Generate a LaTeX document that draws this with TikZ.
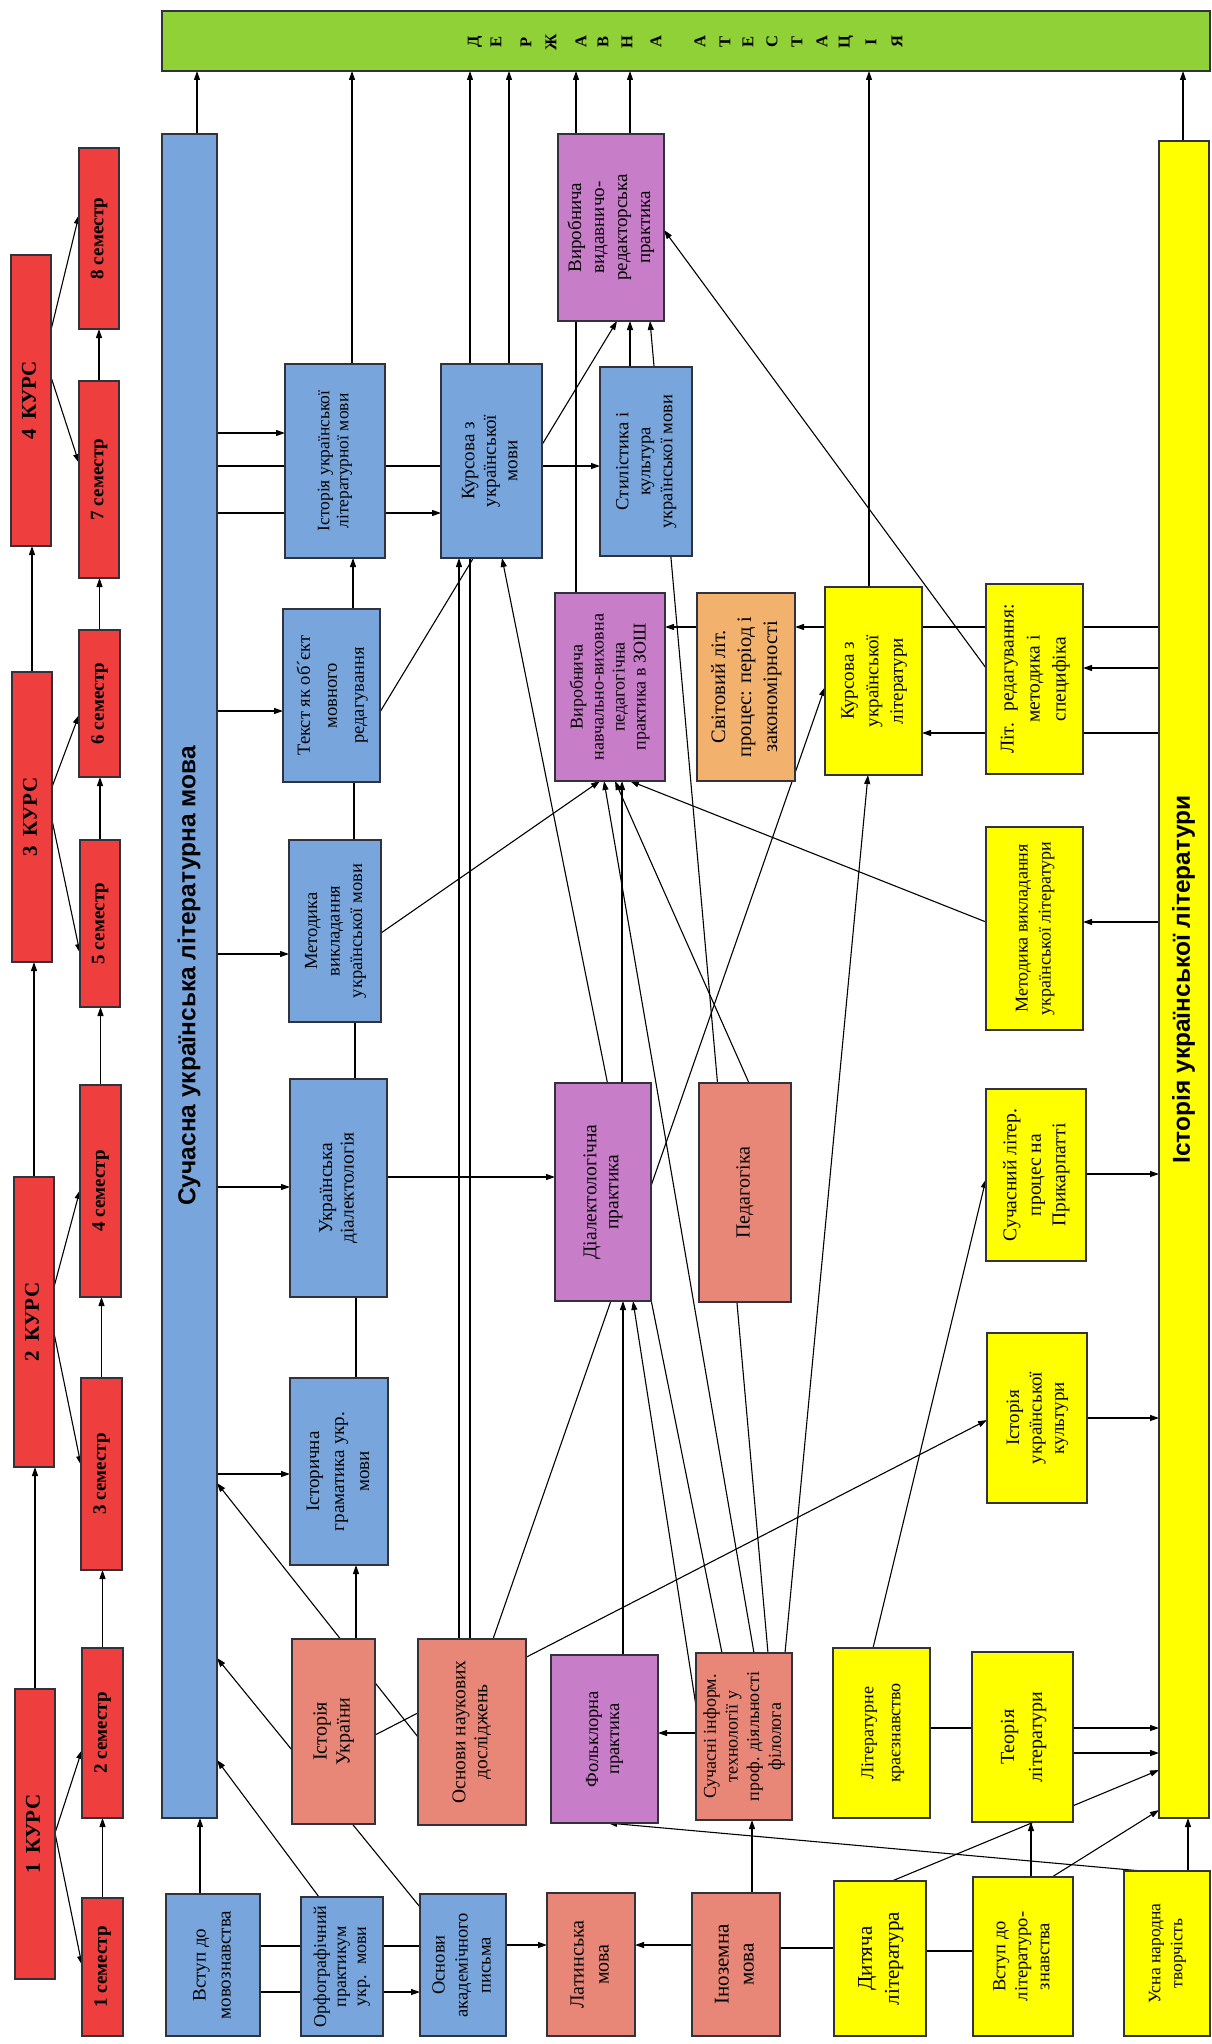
\documentclass[tikz,border=0pt]{standalone}
\usepackage{fontspec}
\setmainfont{Liberation Serif}
\newfontfamily\titlefont{Liberation Sans}
\usepackage{graphicx}
\usetikzlibrary{arrows.meta}
\definecolor{cred}{RGB}{238,62,62}
\definecolor{cblue}{RGB}{120,166,220}
\definecolor{cpurp}{RGB}{200,125,200}
\definecolor{csalm}{RGB}{232,135,120}
\definecolor{corange}{RGB}{242,178,110}
\definecolor{cyell}{RGB}{255,255,0}
\definecolor{cgreen}{RGB}{143,209,54}
\definecolor{cbord}{RGB}{50,50,60}
\newcommand\rt[1]{\rotatebox{90}{\begin{tabular}{@{}c@{}}#1\end{tabular}}}
\newcommand\fs[2]{\fontsize{#1}{#2}\selectfont}
\pgfdeclarelayer{back}
\pgfdeclarelayer{bg}
\pgfsetlayers{back,bg,main}
\tikzset{
  box/.style={draw=cbord, line width=1.3pt, inner sep=0pt, outer sep=0pt, font=\fs{19}{22}},
  redb/.style={box, fill=cred, font=\fs{19}{22}\bfseries},
  blb/.style={box, fill=cblue},
  pub/.style={box, fill=cpurp},
  sab/.style={box, fill=csalm},
  orb/.style={box, fill=corange},
  yeb/.style={box, fill=cyell},
  letter/.style={inner sep=0pt, font=\fs{16.5}{18}\bfseries},
  arr/.style={-{Triangle[length=9pt,width=6pt]}, line width=1.1pt},
  ln/.style={line width=1.1pt}
}
\begin{document}
\begin{tikzpicture}[x=1pt,y=-1pt]
\useasboundingbox (0,0) rectangle (1211,2044);
\begin{pgfonlayer}{back}
\fill[white] (0,0) rectangle (1211,2044);
\end{pgfonlayer}
% courses
\node[redb, font=\fs{21}{24}\bfseries, minimum width=40pt, minimum height=291pt] (k4) at (31,400.5) {\rt{4\hspace{0.45em}КУРС}};
\node[redb, font=\fs{21}{24}\bfseries, minimum width=40pt, minimum height=290pt] (k3) at (32,817) {\rt{3\hspace{0.45em}КУРС}};
\node[redb, font=\fs{21}{24}\bfseries, minimum width=40pt, minimum height=290pt] (k2) at (34,1322) {\rt{2\hspace{0.45em}КУРС}};
\node[redb, font=\fs{21}{24}\bfseries, minimum width=40pt, minimum height=290pt] (k1) at (35,1834) {\rt{1\hspace{0.45em}КУРС}};
% semesters
\node[redb, minimum width=40pt, minimum height=181pt] (s8) at (99,238.5) {\rt{8 семестр}};
\node[redb, minimum width=40pt, minimum height=197pt] (s7) at (99,479.5) {\rt{7 семестр}};
\node[redb, minimum width=41pt, minimum height=147pt] (s6) at (99.5,703.5) {\rt{6 семестр}};
\node[redb, minimum width=40pt, minimum height=167pt] (s5) at (100,923.5) {\rt{5 семестр}};
\node[redb, minimum width=41pt, minimum height=212pt] (s4) at (100.5,1191) {\rt{4 семестр}};
\node[redb, minimum width=41pt, minimum height=192pt] (s3) at (101.5,1474) {\rt{3 семестр}};
\node[redb, minimum width=41pt, minimum height=170pt] (s2) at (102.5,1733) {\rt{2 семестр}};
\node[redb, minimum width=41pt, minimum height=138pt] (s1) at (102.5,1967) {\rt{1 семестр}};
% big columns
\node[blb, font=\fs{24.5}{29}\titlefont\bfseries, minimum width=55pt, minimum height=1684pt] (sula) at (189.5,976) {\rt{Сучасна українська літературна мова}};
\node[box, fill=cgreen, minimum width=1048pt, minimum height=60pt] (da) at (686,41) {};
\node[yeb, font=\fs{24.5}{29}\titlefont\bfseries, minimum width=50pt, minimum height=1677pt] (istl) at (1184,979.5) {\rt{Історія української літератури}};
\foreach \l/\x [count=\i] in {Д/475,Е/496,Р/526,Ж/551,А/581,В/603,Н/627,А/656} {\node[letter] (dA\i) at (\x,42) {\rotatebox{90}{\l}};}
\foreach \l/\x [count=\i] in {А/700,Т/725,Е/748,С/772,Т/797,А/822,Ц/846,І/871,Я/897} {\node[letter] (dB\i) at (\x,42) {\rotatebox{90}{\l}};}
% blue boxes
\node[blb, font=\fs{17.5}{19}, minimum width=100pt, minimum height=194pt] (ilm) at (335,461) {\rt{Історія української\\літературної мови}};
\node[blb, font=\fs{18.5}{27}, minimum width=97pt, minimum height=173pt] (tekst) at (331.5,695.5) {\rt{Текст як об´єкт\\мовного\\редагування}};
\node[blb, font=\fs{18.5}{22.5}, minimum width=92pt, minimum height=182pt] (metm) at (335,931) {\rt{Методика\\викладання\\української мови}};
\node[blb, font=\fs{19.5}{21.5}, minimum width=97pt, minimum height=218pt] (dial) at (338.5,1188) {\rt{Українська\\діалектологія}};
\node[blb, font=\fs{19}{25}, minimum width=98pt, minimum height=187pt] (istgr) at (339,1471.5) {\rt{Історична\\граматика укр.\\мови}};
\node[blb, font=\fs{19}{21.5}, minimum width=101pt, minimum height=194pt] (kurm) at (491.5,461) {\rt{Курсова з\\української\\мови}};
\node[blb, font=\fs{18.5}{22}, minimum width=92pt, minimum height=189pt] (stil) at (646,461.5) {\rt{Стилістика і\\культура\\української мови}};
\node[blb, font=\fs{19}{25}, minimum width=94pt, minimum height=142pt] (vstm) at (213,1965) {\rt{Вступ до\\мовознавства}};
\node[blb, font=\fs{18}{20}, minimum width=82pt, minimum height=139pt] (orf) at (342,1966.5) {\rt{Орфографічний\\практикум\\укр.~ мови}};
\node[blb, font=\fs{18.5}{23}, minimum width=86pt, minimum height=142pt] (oap) at (463,1965) {\rt{Основи\\академічного\\письма}};
% purple
\node[pub, font=\fs{19}{23}, minimum width=106pt, minimum height=187pt] (vyd) at (611,227.5) {\rt{Виробнича\\видавничо-\\редакторська\\практика}};
\node[pub, font=\fs{18}{21}, minimum width=110pt, minimum height=188pt] (vnz) at (610,687) {\rt{Виробнича\\навчально-виховна\\педагогічна\\практика в ЗОШ}};
\node[pub, font=\fs{19.5}{22}, minimum width=96pt, minimum height=218pt] (dpr) at (603,1192) {\rt{Діалектологічна\\практика}};
\node[pub, font=\fs{18.5}{21}, minimum width=107pt, minimum height=168pt] (folk) at (604.5,1739) {\rt{Фольклорна\\практика}};
% salmon
\node[sab, font=\fs{20}{23}, minimum width=92pt, minimum height=219pt] (ped) at (745,1192.5) {\rt{Педагогіка}};
\node[sab, font=\fs{20}{23}, minimum width=83pt, minimum height=185pt] (istu) at (333.5,1731.5) {\rt{Історія\\України}};
\node[sab, font=\fs{19.5}{22}, minimum width=108pt, minimum height=186pt] (osn) at (472,1732) {\rt{Основи наукових\\досліджень}};
\node[sab, font=\fs{18}{21.7}, minimum width=96pt, minimum height=167pt] (sit) at (744,1736.5) {\rt{Сучасні інформ.\\технології у\\проф. діяльності\\філолога}};
\node[sab, font=\fs{20}{25}, minimum width=88pt, minimum height=143pt] (lat) at (591,1964.5) {\rt{Латинська\\мова}};
\node[sab, font=\fs{21}{25}, minimum width=88pt, minimum height=143pt] (inoz) at (736,1964.5) {\rt{Іноземна\\мова}};
% orange
\node[orb, font=\fs{20.5}{26}, minimum width=98pt, minimum height=188pt] (svit) at (746,687) {\rt{Світовий літ.\\процес: період і\\закономірності}};
% yellow
\node[yeb, font=\fs{19}{24.5}, minimum width=97pt, minimum height=188pt] (kurl) at (873.5,681) {\rt{Курсова з\\української\\літератури}};
\node[yeb, font=\fs{19.5}{26}, minimum width=97pt, minimum height=190pt] (litred) at (1034.5,679) {\rt{Літ.~ редагування:\\методика і\\специфіка}};
\node[yeb, font=\fs{18}{23}, minimum width=97pt, minimum height=203pt] (metl) at (1034.5,928.5) {\rt{Методика викладання\\української літератури}};
\node[yeb, font=\fs{19.5}{24.5}, minimum width=100pt, minimum height=172pt] (suchl) at (1036,1175) {\rt{Сучасний літер.\\процес на\\Прикарпатті}};
\node[yeb, font=\fs{19}{22.5}, minimum width=100pt, minimum height=170pt] (kult) at (1037,1418) {\rt{Історія\\української\\культури}};
\node[yeb, font=\fs{18}{27}, minimum width=97pt, minimum height=170pt] (kraj) at (881.5,1733) {\rt{Літературне\\краєзнавство}};
\node[yeb, font=\fs{20}{28}, minimum width=101pt, minimum height=170pt] (teor) at (1022.5,1737) {\rt{Теорія\\літератури}};
\node[yeb, font=\fs{21}{27}, minimum width=92pt, minimum height=155pt] (dyt) at (880,1958.5) {\rt{Дитяча\\література}};
\node[yeb, font=\fs{18.5}{22}, minimum width=100pt, minimum height=159pt] (vstl) at (1023,1956.5) {\rt{Вступ до\\літературо-\\знавства}};
\node[yeb, font=\fs{17.5}{22}, minimum width=86pt, minimum height=165pt] (usna) at (1167,1953.5) {\rt{Усна народна\\творчість}};
\begin{pgfonlayer}{bg}
% courses and semesters
\draw[arr] (k1.north) -- (k1.north |- k2.south);
\draw[arr] (k2.north) -- (k2.north |- k3.south);
\draw[arr] (k3.north) -- (k3.north |- k4.south);
\draw[arr] (s1.north) -- (s1.north |- s2.south);
\draw[arr] (s2.north) -- (s2.north |- s3.south);
\draw[arr] (s3.north) -- (s3.north |- s4.south);
\draw[arr] (s4.north) -- (s4.north |- s5.south);
\draw[arr] (s5.north) -- (s5.north |- s6.south);
\draw[arr] (s6.north) -- (s6.north |- s7.south);
\draw[arr] (s7.north) -- (s7.north |- s8.south);
\draw[arr] (k4.east |- 0,330) -- (s8.west |- 0,215);
\draw[arr] (k4.east |- 0,377) -- (s7.west |- 0,463);
\draw[arr] (k3.east |- 0,787) -- (s6.west |- 0,715);
\draw[arr] (k3.east |- 0,820) -- (s5.west |- 0,953);
\draw[arr] (k2.east |- 0,1287) -- (s4.west |- 0,1190);
\draw[arr] (k2.east |- 0,1333) -- (s3.west |- 0,1465);
\draw[arr] (k1.east |- 0,1833) -- (s2.west |- 0,1750);
\draw[arr] (k1.east |- 0,1833) -- (s1.west |- 0,1965);
% main column
\draw[arr] (sula.north -| 197,0) -- (da.south -| 197,0);
\draw[arr] (sula.east |- 0,433) -- (ilm.west |- 0,433);
\draw[arr] (sula.east |- 0,466) -- (stil.west |- 0,466);
\draw[arr] (sula.east |- 0,513) -- (kurm.west |- 0,513);
\draw[arr] (sula.east |- 0,711) -- (tekst.west |- 0,711);
\draw[arr] (sula.east |- 0,954) -- (metm.west |- 0,954);
\draw[arr] (sula.east |- 0,1187) -- (dial.west |- 0,1187);
\draw[arr] (sula.east |- 0,1474) -- (istgr.west |- 0,1474);
% second column
\draw[arr] (ilm.north -| 352,0) -- (da.south -| 352,0);
\draw[arr] (tekst.north -| 353,0) -- (ilm.south -| 353,0);
\draw[ln] (metm.north -| 354,0) -- (tekst.south -| 354,0);
\draw[ln] (dial.north -| 355,0) -- (metm.south -| 355,0);
\draw[ln] (istgr.north -| 356,0) -- (dial.south -| 356,0);
\draw[arr] (istu.north -| 356,0) -- (istgr.south -| 356,0);
% kursova
\draw[arr] (kurm.north -| 509,0) -- (da.south -| 509,0);
\draw[arr] (osn.north -| 470,0) -- (da.south -| 470,0);
\draw[arr] (osn.north -| 459,0) -- (kurm.south -| 459,0);
\draw[arr] (tekst.east |- 0,712) -- (vyd.south -| 617,0);
\draw[arr] (sit.north -| 722,0) -- (kurm.south -| 502,0);
% practices
\draw[arr] (vyd.north -| 630,0) -- (da.south -| 630,0);
\draw[arr] (vnz.north -| 576,0) -- (da.south -| 576,0);
\draw[arr] (stil.north -| 630,0) -- (vyd.south -| 630,0);
\draw[arr] (sit.north -| 768,0) -- (vyd.south -| 650,0);
\draw[arr] (metm.east |- 0,933) -- (vnz.south -| 600,0);
\draw[arr] (sit.north -| 754,0) -- (vnz.south -| 604,0);
\draw[arr] (dpr.north -| 622,0) -- (vnz.south -| 622,0);
\draw[arr] (ped.north -| 749,0) -- (vnz.south -| 615,0);
\draw[arr] (metl.west |- 0,922) -- (vnz.south -| 630,0);
\draw[arr] (svit.west |- 0,627) -- (vnz.east |- 0,627);
% literature
\draw[arr] (istl.west |- 0,627) -- (svit.east |- 0,627);
\draw[arr] (istl.west |- 0,668) -- (litred.east |- 0,668);
\draw[arr] (istl.west |- 0,733) -- (kurl.east |- 0,733);
\draw[arr] (kurl.north -| 869,0) -- (da.south -| 869,0);
\draw[arr] (litred.west |- 0,668) -- (vyd.east |- 0,230);
\draw[arr] (istl.west |- 0,922) -- (metl.east |- 0,922);
\draw[arr] (suchl.east |- 0,1174) -- (istl.west |- 0,1174);
\draw[arr] (kult.east |- 0,1418) -- (istl.west |- 0,1418);
\draw[arr] (kraj.north -| 873,0) -- (suchl.west |- 0,1179);
\draw[arr] (istu.east |- 0,1735) -- (kult.west |- 0,1420);
\draw[arr] (osn.west |- 0,1737) -- (sula.east |- 0,1483);
\draw[arr] (osn.north -| 493,0) -- (kurl.west |- 0,687);
\draw[arr] (sit.north -| 785,0) -- (kurl.south -| 868,0);
\draw[arr] (istl.north -| 1183,0) -- (da.south -| 1183,0);
% lower row
\draw[arr] (vstm.north -| 200,0) -- (sula.south -| 200,0);
\draw[arr] (orf.north -| 319,0) -- (sula.east |- 0,1760);
\draw[arr] (oap.west |- 0,1907) -- (sula.east |- 0,1658);
\draw[ln] (vstm.east |- 0,1946) -- (oap.west |- 0,1946);
\draw[arr] (vstm.east |- 0,1992) -- (oap.west |- 0,1992);
\draw[arr] (oap.east |- 0,1945) -- (lat.west |- 0,1945);
\draw[arr] (inoz.west |- 0,1945) -- (lat.east |- 0,1945);
\draw[ln] (dyt.west |- 0,1948) -- (inoz.east |- 0,1948);
\draw[ln] (vstl.west |- 0,1951) -- (dyt.east |- 0,1951);
\draw[arr] (inoz.north -| 752,0) -- (sit.south -| 752,0);
\draw[arr] (sit.west |- 0,1733) -- (folk.east |- 0,1733);
\draw[arr] (sit.west |- 0,1706) -- (dpr.south -| 633,0);
\draw[arr] (folk.north -| 623,0) -- (dpr.south -| 623,0);
\draw[arr] (usna.north -| 1142,0) -- (folk.south -| 608,0);
\draw[arr] (usna.north -| 1188,0) -- (istl.south -| 1188,0);
\draw[ln] (kraj.east |- 0,1728) -- (teor.west |- 0,1728);
\draw[arr] (teor.east |- 0,1728) -- (istl.west |- 0,1728);
\draw[arr] (teor.east |- 0,1753) -- (istl.west |- 0,1753);
\draw[arr] (dyt.north -| 892,0) -- (istl.west |- 0,1770);
\draw[arr] (vstl.north -| 1031,0) -- (teor.south -| 1031,0);
\draw[arr] (vstl.north -| 1052,0) -- (istl.west |- 0,1810);
\draw[arr] (dial.east |- 0,1177) -- (dpr.west |- 0,1177);
\end{pgfonlayer}
\end{tikzpicture}
\end{document}
